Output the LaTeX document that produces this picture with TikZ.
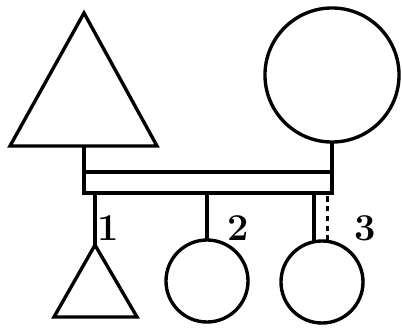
\documentclass[tikz,border=0pt]{standalone}
\usepackage{tikz}
\usetikzlibrary{positioning,calc}

\begin{document}
\begin{tikzpicture}[
    x=0.025cm, y=-0.025cm,
    line width=2.4pt, line join=miter,
    person/.style={circle, draw, line width=2.4pt, inner sep=0pt, outer sep=0pt},
    bar/.style={rectangle, draw, line width=2.4pt, minimum width=6.2cm, minimum height=0.525cm, inner sep=0pt, outer sep=0pt},
    num/.style={font=\fontsize{27}{27}\selectfont\bfseries, inner sep=0pt}
]
\useasboundingbox (0,0) rectangle (402,329);

% Parents
\coordinate (fatop) at (84,13);
\coordinate (fbl) at (10,146);
\coordinate (fbr) at (157,146);
\coordinate (father) at (84,146);
\draw (fatop) -- (fbr) -- (fbl) -- cycle;
\node[person, minimum size=3.35cm] (mother) at (332,75) {};

% Sibling bar
\node[bar] (sib) at (208,182.5) {};
\draw (father) -- (father |- sib.north);
\draw (mother.south) -- (mother.south |- sib.north);

% Children
\coordinate (c1top) at (95,245);
\coordinate (c1bl) at (54,317);
\coordinate (c1br) at (137,317);
\draw (c1top) -- (c1br) -- (c1bl) -- cycle;
\node[person, minimum size=2.05cm] (c2) at (207,281) {};
\node[person, minimum size=2.05cm] (c3) at (322,282) {};

\draw (c1top) -- (c1top |- sib.south);
\draw (c2.north) -- (c2.north |- sib.south);
\draw ([xshift=-0.2cm]c3.north) -- ([xshift=-0.2cm]c3.north |- sib.south);
\draw[dashed, dash pattern=on 4pt off 3pt] ([xshift=0.13cm]c3.north) -- ([xshift=0.13cm]c3.north |- sib.south);

% Labels
\node[num] (n1) at (108,228) {1};
\node[num] (n2) at (238,228) {2};
\node[num] (n3) at (365,228) {3};

\end{tikzpicture}
\end{document}
